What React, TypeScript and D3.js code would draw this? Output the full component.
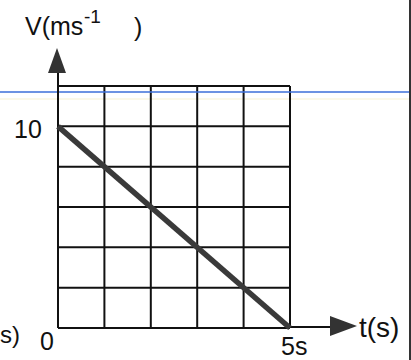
import React from "react";
import * as d3 from "d3";

// Velocity–time graph: uniform deceleration from 10 m/s to rest in 5 s
const times = [0, 5];
const velocities = [10, 0];
const xGrid = [0, 1, 2, 3, 4, 5];
const yGrid = [0, 2, 4, 6, 8, 10, 12];
const yTickLabels = [{ v: 10, label: "10" }];
const xTickLabels = [{ t: 5, label: "5s" }];

const W = 411;
const H = 360;
const FONT = "'Liberation Sans', Arial, sans-serif";

export default function App() {
  const x = d3.scaleLinear().domain([0, 5]).range([58, 290]);
  const y = d3.scaleLinear().domain([0, 12]).range([328, 86]);

  const line = d3
    .line<number>()
    .x((_, i) => x(times[i]))
    .y((d) => y(d));

  const x0 = x(0);
  const y0 = y(0);
  const xEnd = x(5);
  const yTop = y(12);

  return (
    <svg
      width={W}
      height={H}
      style={{ position: "fixed", left: 0, top: 0, background: "#fff" }}
      fontFamily={FONT}
    >
      {/* ruled line across the page */}
      <line x1={0} x2={W} y1={99} y2={99} stroke="#f7f1d2" strokeWidth={1.2} />
      {/* grid */}
      {xGrid.map((t) => (
        <line key={"gx" + t} x1={x(t)} x2={x(t)} y1={yTop} y2={y0} stroke="#111" strokeWidth={2} />
      ))}
      {yGrid.map((v) => (
        <line key={"gy" + v} x1={x0} x2={xEnd} y1={y(v)} y2={y(v)} stroke="#111" strokeWidth={2} />
      ))}
      <line x1={0} x2={W} y1={92} y2={92} stroke="#3d6fd8" strokeWidth={1.6} />

      {/* axes with arrowheads */}
      <line x1={x0} x2={x0} y1={y0} y2={70} stroke="#111" strokeWidth={2} />
      <path d={`M${x0 - 1},48 L${x0 - 10},73 L${x0 + 8},73 Z`} fill="#333" />
      <line x1={xEnd} x2={332} y1={327} y2={327} stroke="#111" strokeWidth={2} />
      <path d={`M357,326 L330,316 L330,336 Z`} fill="#333" />

      {/* velocity line */}
      <path d={line(velocities) || ""} stroke="#3a3a3a" strokeWidth={5.5} fill="none" />

      {/* labels */}
      <text x={25} y={35} fontSize={25} fill="#111">V(ms</text>
      <text x={84} y={23} fontSize={19} fill="#111">-1</text>
      <text x={134} y={36} fontSize={25} fill="#111">)</text>
      {yTickLabels.map((d) => (
        <text key={d.label} x={14} y={y(d.v) + 12} fontSize={25} fill="#111">{d.label}</text>
      ))}
      <text x={40} y={350} fontSize={25} fill="#111">0</text>
      {xTickLabels.map((d) => (
        <text key={d.label} x={x(d.t) - 9} y={355} fontSize={25} fill="#111">{d.label}</text>
      ))}
      <text x={359} y={337} fontSize={28} fill="#111">t(s)</text>
      <text x={0} y={343} fontSize={24} fill="#111">s)</text>

      {/* page edge */}
      <line x1={410} x2={410} y1={0} y2={H} stroke="#333" strokeWidth={2} />
    </svg>
  );
}
